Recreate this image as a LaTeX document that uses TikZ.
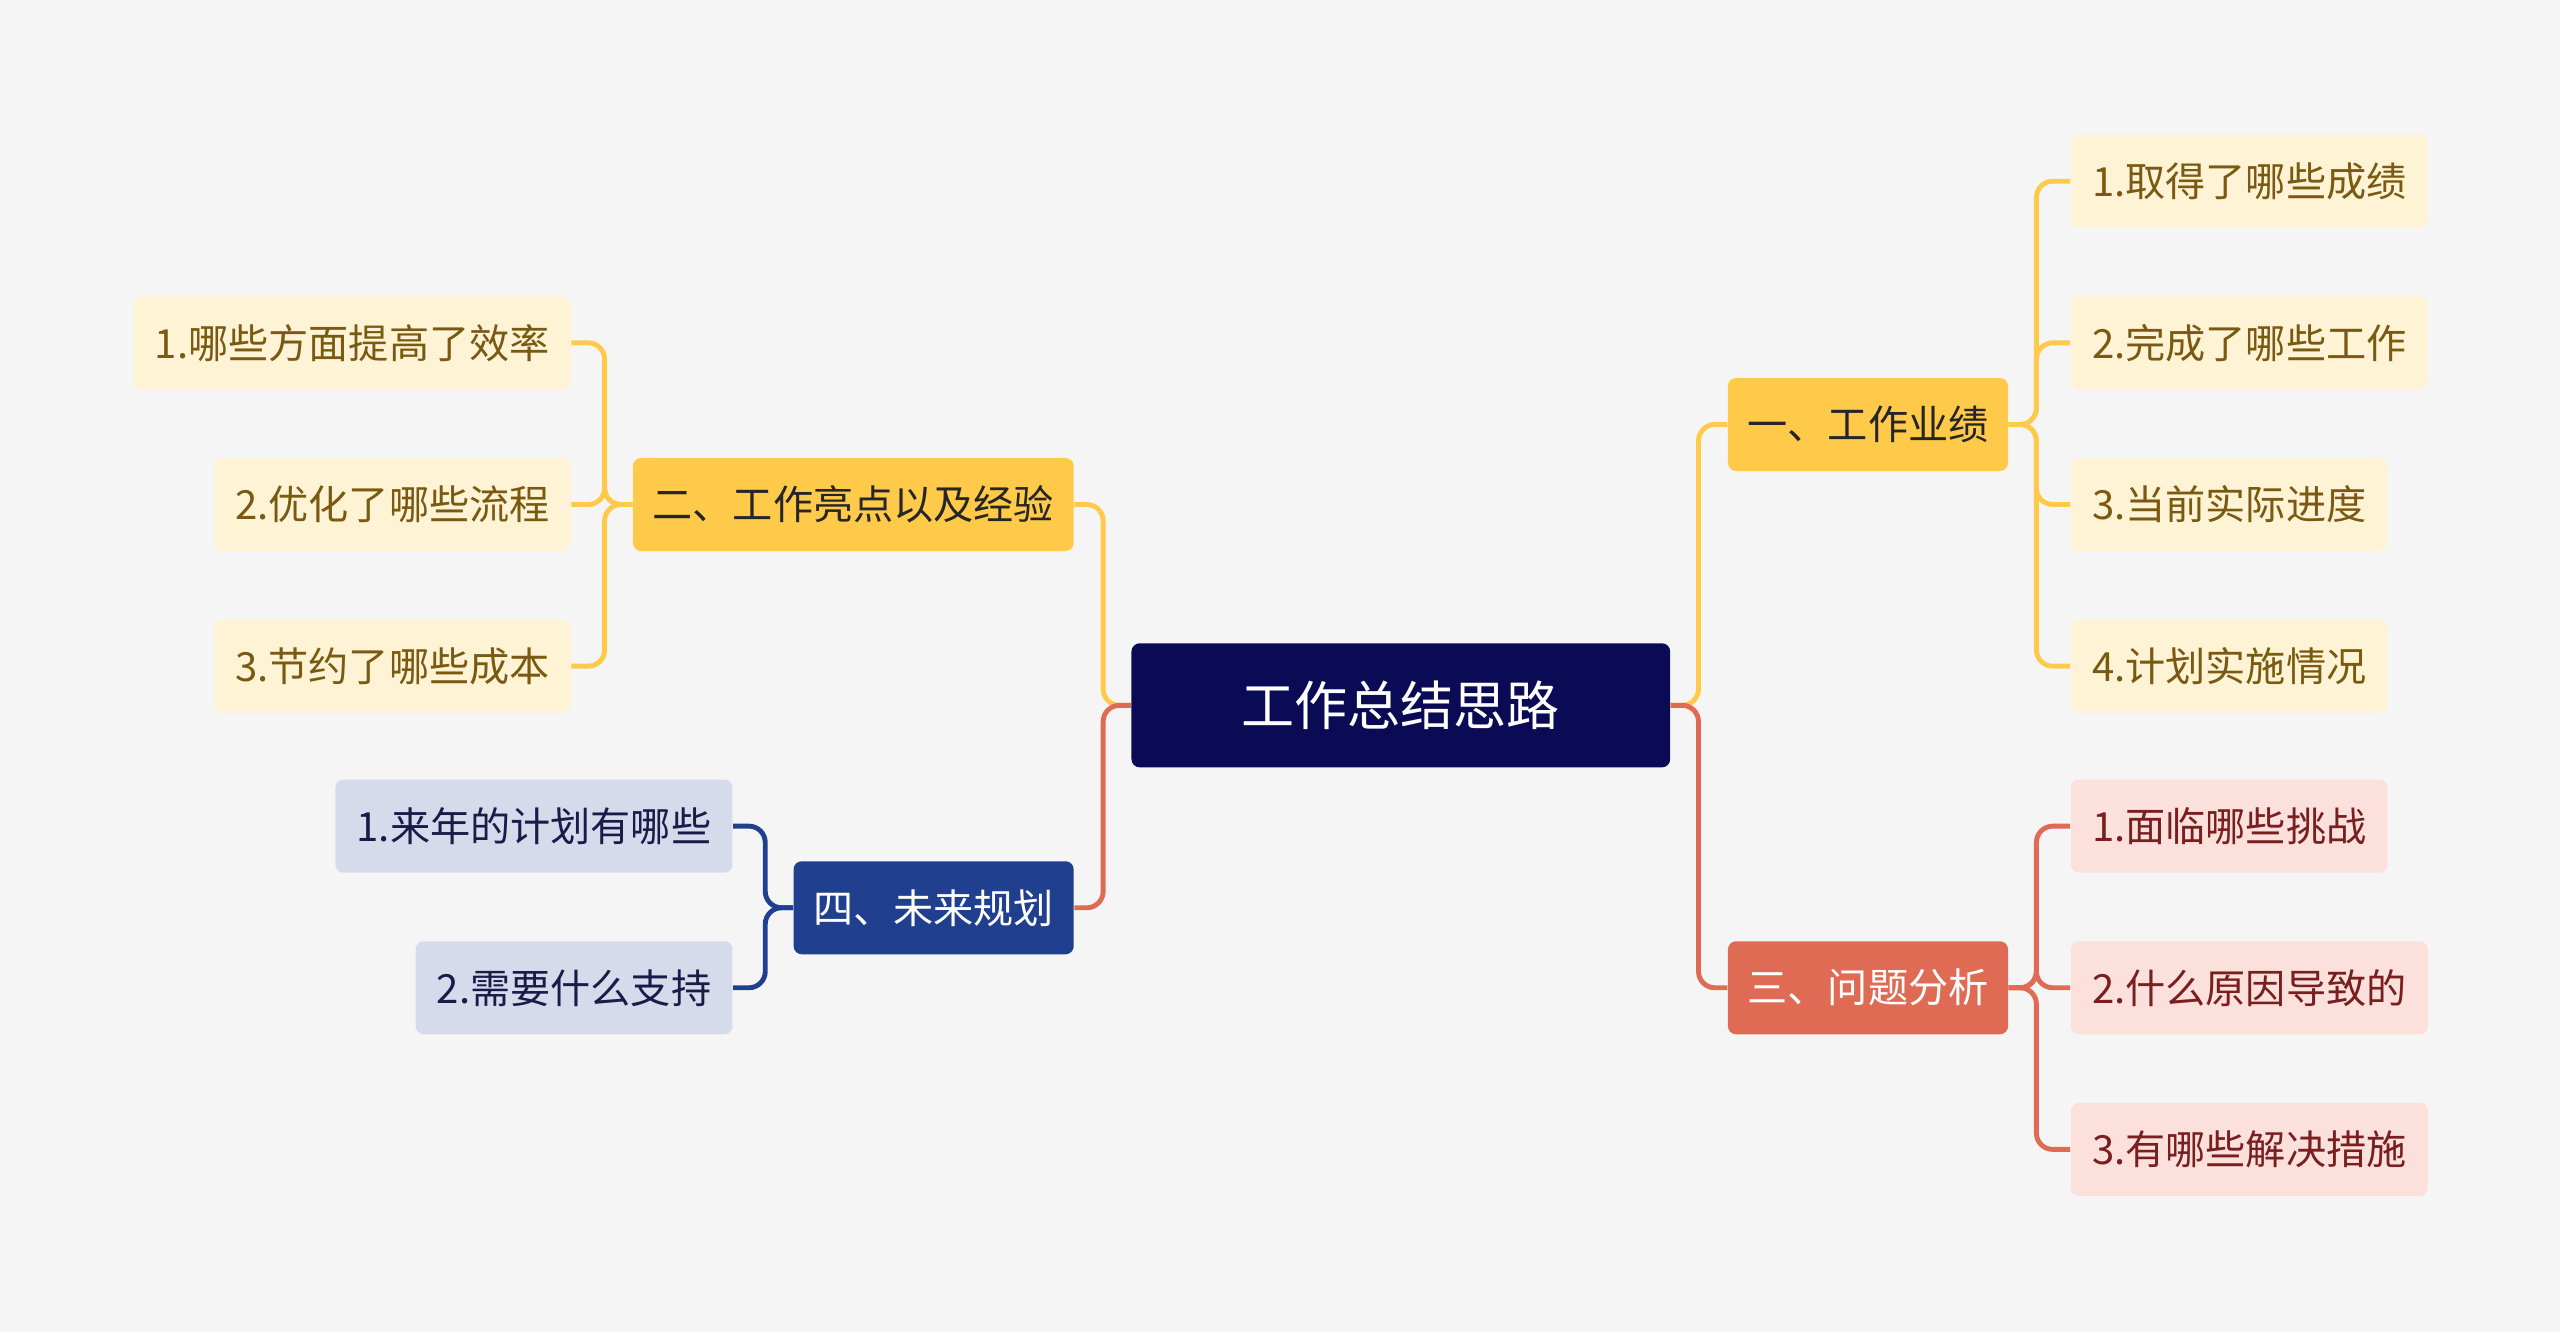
\documentclass[tikz,border=0pt]{standalone}
\usepackage{fontspec}
\setmainfont{Noto Sans CJK SC}
\usetikzlibrary{positioning}
\definecolor{bgc}{HTML}{F5F5F5}
\definecolor{navy}{HTML}{0B0B55}
\definecolor{yel}{HTML}{FFC94A}
\definecolor{yelleaf}{HTML}{FFF3D6}
\definecolor{yeltext}{HTML}{7A5A10}
\definecolor{redm}{HTML}{E06B55}
\definecolor{redleaf}{HTML}{FBE0DC}
\definecolor{redtext}{HTML}{7A1F1F}
\definecolor{bluem}{HTML}{203F8F}
\definecolor{blueleaf}{HTML}{D5DBEA}
\definecolor{bluetext}{HTML}{1B1B4A}
\tikzset{>=latex}
\tikzstyle{root}=[rectangle,fill=navy,text=white,rounded corners=0.1cm,minimum width=6.6cm,minimum height=1.52cm,font=\fontsize{18.5}{20}\selectfont]
\tikzstyle{branch}=[rectangle,rounded corners=0.1cm,minimum height=1.14cm,inner xsep=0.24cm,font=\fontsize{14}{16}\selectfont]
\tikzstyle{leaf}=[rectangle,rounded corners=0.1cm,minimum height=1.14cm,inner xsep=0.26cm,font=\fontsize{14}{16}\selectfont]
\tikzstyle{link}=[line width=1.7pt,rounded corners=0.2cm]
\begin{document}
\begin{tikzpicture}[x=0.02cm,y=-0.02cm]
\fill[bgc] (0,0) rectangle (1568,816);
\useasboundingbox (0,0) rectangle (1568,816);

\node[root] (C) at (858,432) {工作总结思路};

\node[branch,fill=yel,text=black!85,anchor=west] (B1) at (1058,260) {一、工作业绩};
\node[branch,fill=redm,text=white,anchor=west] (B3) at (1058,605) {三、问题分析};
\node[branch,fill=yel,text=black!85,anchor=east] (B2) at (658,309) {二、工作亮点以及经验};
\node[branch,fill=bluem,text=white,anchor=east] (B4) at (658,556) {四、未来规划};

% right side leaves
\foreach \t [count=\i] in {1.取得了哪些成绩,2.完成了哪些工作,3.当前实际进度,4.计划实施情况} {
	\node[leaf,fill=yelleaf,text=yeltext,anchor=west] (R\i) at (1268,{12+99*\i}) {\t};
	\draw[link,yel] (B1.east) -- ++(17,0) |- (R\i.west);
};
\foreach \t [count=\i] in {1.面临哪些挑战,2.什么原因导致的,3.有哪些解决措施} {
	\node[leaf,fill=redleaf,text=redtext,anchor=west] (P\i) at (1268,{407+99*\i}) {\t};
	\draw[link,redm] (B3.east) -- ++(17,0) |- (P\i.west);
};

% left side leaves
\foreach \t [count=\i] in {1.哪些方面提高了效率,2.优化了哪些流程,3.节约了哪些成本} {
	\node[leaf,fill=yelleaf,text=yeltext,anchor=east] (L\i) at (350,{111+99*\i}) {\t};
	\draw[link,yel] (B2.west) -- ++(-17,0) |- (L\i.east);
};
\foreach \t [count=\i] in {1.来年的计划有哪些,2.需要什么支持} {
	\node[leaf,fill=blueleaf,text=bluetext,anchor=east] (F\i) at (449,{407+99*\i}) {\t};
	\draw[link,bluem] (B4.west) -- ++(-17,0) |- (F\i.east);
};

\draw[link,yel] (C.east) -- ++(17,0) |- (B1.west);
\draw[link,redm] (C.east) -- ++(17,0) |- (B3.west);
\draw[link,yel] (C.west) -- ++(-17,0) |- (B2.east);
\draw[link,redm] (C.west) -- ++(-17,0) |- (B4.east);
\end{tikzpicture}
\end{document}
